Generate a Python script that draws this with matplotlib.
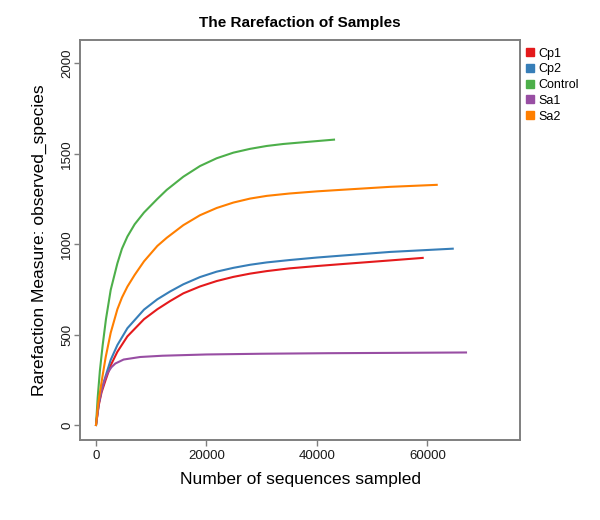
import matplotlib
matplotlib.use("Agg")
import matplotlib.pyplot as plt
from matplotlib.lines import Line2D

plt.rcParams['font.family'] = ['Liberation Sans', 'DejaVu Sans']

# Data
cp1_x = [0, 500, 1000, 1750, 2660, 3870, 5680, 8690, 11100, 13400, 15810, 18830, 21850,
         24870, 27890, 30910, 35000, 40000, 44190, 53240, 59160]
cp1_y = [0, 110, 180, 250, 330, 405, 490, 585, 640, 685, 728, 766, 796,
         819, 837, 851, 866, 879, 889, 910, 924]

cp2_x = [0, 500, 1000, 1750, 2660, 3870, 5680, 8690, 11100, 13400, 15810, 18830, 21850,
         24870, 27890, 30910, 35000, 40000, 44190, 53240, 64600]
cp2_y = [0, 120, 195, 272, 360, 442, 535, 638, 695, 738, 778, 818, 848,
         869, 886, 899, 912, 926, 936, 957, 975]

ctrl_x = [0, 300, 700, 1200, 1800, 2660, 3870, 4700, 5680, 7000, 8690, 11100, 12800, 15810,
          18830, 21850, 24870, 27890, 30910, 33920, 36940, 40000, 43100]
ctrl_y = [0, 150, 300, 440, 585, 747, 894, 975, 1042, 1110, 1175, 1250, 1300, 1373,
          1432, 1475, 1506, 1527, 1543, 1554, 1562, 1570, 1578]

sa1_x = [0, 500, 1000, 1500, 2100, 2800, 3500, 5000, 8000, 12000, 20000, 30000, 42000, 55000, 67000]
sa1_y = [0, 120, 190, 243, 288, 320, 340, 362, 376, 383, 390, 394, 397, 399, 401]

sa2_x = [0, 400, 1150, 1750, 2660, 3870, 4700, 5680, 7000, 8690, 11100, 12800, 15810, 18830,
         21850, 24870, 27890, 30910, 35000, 40000, 44190, 53240, 61700]
sa2_y = [0, 120, 265, 375, 510, 640, 705, 765, 830, 905, 990, 1035, 1105, 1160,
         1200, 1230, 1252, 1267, 1280, 1292, 1300, 1317, 1328]

series = [
    ("Cp1", cp1_x, cp1_y, "#E41A1C"),
    ("Cp2", cp2_x, cp2_y, "#377EB8"),
    ("Control", ctrl_x, ctrl_y, "#4DAF4A"),
    ("Sa1", sa1_x, sa1_y, "#984EA3"),
    ("Sa2", sa2_x, sa2_y, "#FF7F00"),
]

x_ticks = [0, 20000, 40000, 60000]
y_ticks = [0, 500, 1000, 1500, 2000]

fig = plt.figure(figsize=(6.0, 5.2), dpi=100)
ax = fig.add_axes([80/600, 1-440/520, 440/600, 400/520])

for name, xs, ys, c in series:
    ax.plot(xs, ys, color=c, lw=1.5, solid_joinstyle='round')

ax.set_xlim(-2900, 76780)
ax.set_ylim(-83, 2129)
ax.set_xticks(x_ticks)
ax.set_xticklabels([str(v) for v in x_ticks])
ax.set_yticks(y_ticks)
ax.set_yticklabels([str(v) for v in y_ticks], rotation=90, va='center')

for s in ax.spines.values():
    s.set_color('#7f7f7f')
    s.set_linewidth(1.4)
ax.tick_params(axis='both', colors='#7f7f7f', labelcolor='#1a1a1a', labelsize=9.5,
               length=4, width=1.0, direction='out')
ax.tick_params(axis='y', pad=1)

ax.set_title("The Rarefaction of Samples", fontsize=11, fontweight='bold', pad=9)
ax.set_xlabel("Number of sequences sampled", fontsize=12.5, labelpad=7)
ax.set_ylabel("Rarefaction Measure: observed_species", fontsize=12.5, labelpad=10)

handles = [Line2D([], [], marker='s', linestyle='none', markersize=6,
                  markerfacecolor=c, markeredgecolor=c) for _, _, _, c in series]
labels = [n for n, _, _, _ in series]
fig.legend(handles, labels, loc='upper left', bbox_to_anchor=(517/600, 1-40/520),
           frameon=False, fontsize=9, handlelength=0.8, handletextpad=0.3,
           labelspacing=0.3, borderaxespad=0.2)

fig.savefig("out.png", dpi=100)
